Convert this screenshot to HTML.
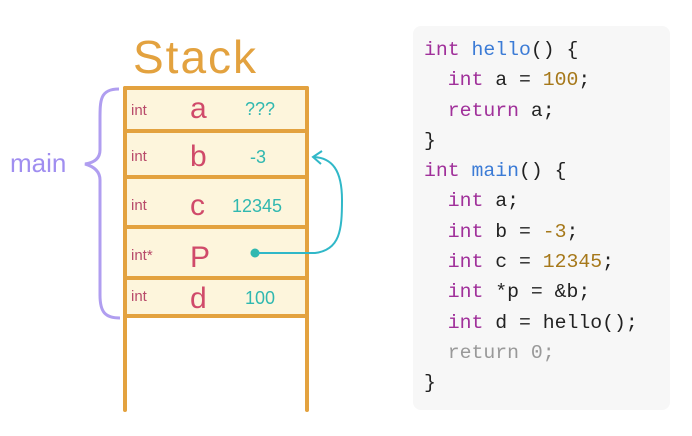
<!DOCTYPE html>
<html><head><style>
body{margin:0;width:692px;height:436px;background:#fff;overflow:hidden;position:relative;font-family:"Liberation Sans",sans-serif}
.code{position:absolute;left:413px;top:26px;width:257px;height:384px;background:#f7f7f7;border-radius:8px}
.code pre{margin:0;position:absolute;left:11px;top:9px;font-family:"Liberation Mono",monospace;font-size:19.8px;line-height:30.3px;color:#222}
.k{color:#a0309a}.f{color:#3b7bd6}.n{color:#a6781a}.g{color:#999}
</style></head><body>
<svg width="692" height="436" style="position:absolute;left:0;top:0">
<rect x="125" y="88" width="182" height="227" fill="#fdf5dc"/>
<g stroke="#e3a23f" stroke-width="4" fill="none" stroke-linecap="round">
<line x1="125" y1="88" x2="125" y2="410"/>
<line x1="307" y1="88" x2="307" y2="410"/>
<line x1="125" y1="88" x2="307" y2="88"/>
<line x1="125" y1="131" x2="307" y2="131"/>
<line x1="125" y1="177" x2="307" y2="177"/>
<line x1="125" y1="227" x2="307" y2="227"/>
<line x1="125" y1="278" x2="307" y2="278"/>
<line x1="125" y1="316" x2="307" y2="316"/>
</g>
<path d="M119 89 C100 89 100 100 100 120 L100 150 C100 160 92 163 85 164 C92 166 100 170 100 180 L100 295 C100 312 105 318 120 318" stroke="#b09ef0" stroke-width="3" fill="none"/>
<text x="10" y="172" font-size="26" fill="#a08ef0">main</text>
<text x="133" y="73" font-size="46" fill="#e3a23f" letter-spacing="2">Stack</text>
<g font-size="15" fill="#b84a6a"><text x="131" y="115">int</text><text x="131" y="161">int</text><text x="131" y="210">int</text><text x="131" y="260">int*</text><text x="131" y="301">int</text></g>
<g font-size="30" fill="#d04a6a"><text x="190" y="118">a</text><text x="190" y="166">b</text><text x="190" y="215">c</text><text x="190" y="267">P</text><text x="190" y="308">d</text></g>
<g font-size="18" fill="#30b8b0"><text x="245" y="115">???</text><text x="250" y="163">-3</text><text x="232" y="212">12345</text><text x="245" y="304">100</text></g>
<circle cx="255" cy="253" r="4.5" fill="#30b8b0"/>
<path d="M258 253 L315 253 C340 250 342 230 342 200 C342 170 332 158 314 157" stroke="#30b8c8" stroke-width="2" fill="none"/>
<path d="M322 151 L313 157 L321 164" stroke="#30b8c8" stroke-width="2" fill="none"/>
</svg>
<div class="code"><pre><span class="k">int</span> <span class="f">hello</span>() {
  <span class="k">int</span> a = <span class="n">100</span>;
  <span class="k">return</span> a;
}
<span class="k">int</span> <span class="f">main</span>() {
  <span class="k">int</span> a;
  <span class="k">int</span> b = <span class="n">-3</span>;
  <span class="k">int</span> c = <span class="n">12345</span>;
  <span class="k">int</span> *p = &amp;b;
  <span class="k">int</span> d = hello();
  <span class="g">return 0;</span>
}</pre></div>
</body></html>
